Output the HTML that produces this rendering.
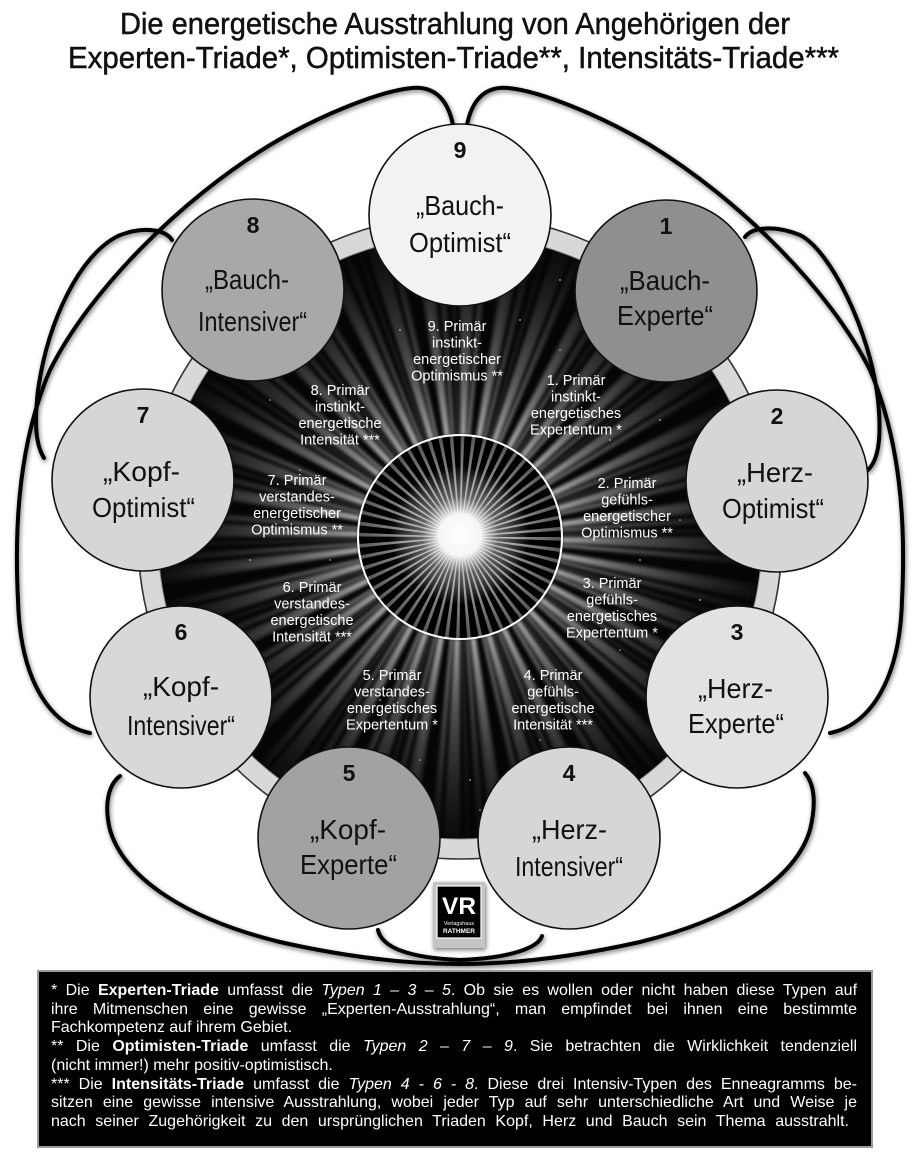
<!DOCTYPE html>
<html><head><meta charset="utf-8">
<style>
html,body{margin:0;padding:0;background:#fff;}
body{width:920px;height:1173px;position:relative;overflow:hidden;font-family:"Liberation Sans",sans-serif;}
svg{position:absolute;left:0;top:0;}
#foot{position:absolute;left:51px;top:982px;width:806px;color:#fff;font-size:16px;line-height:18.7px;}
#foot div{text-align:justify;text-align-last:justify;}
#foot div.l{text-align:left;text-align-last:left;}
</style></head>
<body>
<svg width="920" height="1173" viewBox="0 0 920 1173" xmlns="http://www.w3.org/2000/svg">
<defs>
<filter id="sh" x="-20%" y="-20%" width="140%" height="140%">
<feGaussianBlur in="SourceAlpha" stdDeviation="2.5"/>
<feOffset dx="1" dy="2" result="b"/>
<feComponentTransfer><feFuncA type="linear" slope="0.55"/></feComponentTransfer>
<feMerge><feMergeNode/><feMergeNode in="SourceGraphic"/></feMerge>
</filter>
<filter id="bl" filterUnits="userSpaceOnUse" x="140" y="217" width="640" height="640"><feGaussianBlur stdDeviation="1.6"/></filter>
<radialGradient id="rg" gradientUnits="userSpaceOnUse" cx="460" cy="537" r="302">
<stop offset="0.33" stop-color="#c4c4c4" stop-opacity="0.85"/>
<stop offset="0.55" stop-color="#9a9a9a" stop-opacity="0.55"/>
<stop offset="0.8" stop-color="#777" stop-opacity="0.28"/>
<stop offset="1" stop-color="#555" stop-opacity="0.08"/>
</radialGradient>
<radialGradient id="rc" gradientUnits="userSpaceOnUse" cx="460" cy="537" r="102">
<stop offset="0" stop-color="#fff"/>
<stop offset="0.35" stop-color="#aaa"/>
<stop offset="0.75" stop-color="#777"/>
<stop offset="1" stop-color="#555"/>
</radialGradient>
<radialGradient id="glow" cx="0.5" cy="0.5" r="0.5">
<stop offset="0" stop-color="#fff" stop-opacity="1"/>
<stop offset="0.3" stop-color="#fff" stop-opacity="0.95"/>
<stop offset="0.55" stop-color="#ddd" stop-opacity="0.45"/>
<stop offset="1" stop-color="#fff" stop-opacity="0"/>
</radialGradient>
<clipPath id="dc"><circle cx="460" cy="537" r="302"/></clipPath>
<clipPath id="cc"><circle cx="460" cy="537" r="102"/></clipPath>
</defs>

<!-- Title -->
<g font-family="Liberation Sans, sans-serif" font-size="31" fill="#111" stroke="#111" stroke-width="0.5">
<text x="120" y="34" textLength="670" lengthAdjust="spacingAndGlyphs">Die energetische Ausstrahlung von Angehörigen der</text>
<text x="68" y="68" textLength="771" lengthAdjust="spacingAndGlyphs">Experten-Triade*, Optimisten-Triade**, Intensitäts-Triade***</text>
</g>

<!-- Ring -->
<circle cx="460" cy="537" r="322" fill="#d8d8d8" stroke="#333" stroke-width="1.6"/>
<circle cx="460" cy="537" r="302" fill="#050505" stroke="#888" stroke-width="1"/>
<g clip-path="url(#dc)">
<g filter="url(#bl)">
<circle cx="460" cy="537" r="202" fill="none" stroke="url(#rg)" stroke-width="200" stroke-dasharray="11 20.73"/>
<circle cx="460" cy="537" r="202" fill="none" stroke="url(#rg)" stroke-width="200" stroke-dasharray="5 26.73" stroke-dashoffset="17" opacity="0.75"/>
<circle cx="460" cy="537" r="202" fill="none" stroke="url(#rg)" stroke-width="200" stroke-dasharray="3 18.15" stroke-dashoffset="7" opacity="0.45"/>
</g>
<g fill="#fff" opacity="0.7">
<circle cx="400" cy="330" r="0.9"/><circle cx="520" cy="320" r="0.9"/><circle cx="560" cy="350" r="0.8"/>
<circle cx="350" cy="420" r="0.8"/><circle cx="610" cy="440" r="0.9"/><circle cx="300" cy="470" r="0.8"/>
<circle cx="640" cy="560" r="0.9"/><circle cx="330" cy="560" r="0.8"/><circle cx="290" cy="640" r="0.9"/>
<circle cx="620" cy="650" r="0.8"/><circle cx="380" cy="700" r="0.9"/><circle cx="540" cy="740" r="0.8"/>
<circle cx="470" cy="780" r="0.9"/><circle cx="420" cy="760" r="0.8"/><circle cx="250" cy="560" r="0.9"/>
<circle cx="680" cy="520" r="0.8"/><circle cx="700" cy="600" r="0.9"/><circle cx="230" cy="480" r="0.8"/>
<circle cx="480" cy="810" r="0.8"/><circle cx="360" cy="800" r="0.9"/><circle cx="600" cy="780" r="0.8"/>
<circle cx="660" cy="420" r="0.9"/><circle cx="270" cy="400" r="0.8"/><circle cx="560" cy="280" r="0.9"/>
</g>
</g>

<!-- Center sun -->
<circle cx="460" cy="537" r="102" fill="#000"/>
<g clip-path="url(#cc)">
<circle cx="460" cy="537" r="51" fill="none" stroke="url(#rc)" stroke-width="102" stroke-dasharray="1.9 3.822"/>
<circle cx="460" cy="535" r="70" fill="url(#glow)"/>
</g>
<circle cx="460" cy="537" r="102" fill="none" stroke="#fff" stroke-width="2"/>

<!-- Texts in dark area -->
<g font-family="Liberation Sans, sans-serif" font-size="14.5" fill="#fff" text-anchor="middle">
<text x="457" y="331">9. Primär</text><text x="457" y="347.5">instinkt-</text><text x="457" y="364">energetischer</text><text x="457" y="380.5">Optimismus **</text>
<text x="576" y="385">1. Primär</text><text x="576" y="401.5">instinkt-</text><text x="576" y="418">energetisches</text><text x="576" y="434.5">Expertentum *</text>
<text x="340" y="395">8. Primär</text><text x="340" y="411.5">instinkt-</text><text x="340" y="428">energetische</text><text x="340" y="444.5">Intensität ***</text>
<text x="297" y="485">7. Primär</text><text x="297" y="501.5">verstandes-</text><text x="297" y="518">energetischer</text><text x="297" y="534.5">Optimismus **</text>
<text x="627" y="488">2. Primär</text><text x="627" y="504.5">gefühls-</text><text x="627" y="521">energetischer</text><text x="627" y="537.5">Optimismus **</text>
<text x="312" y="592">6. Primär</text><text x="312" y="608.5">verstandes-</text><text x="312" y="625">energetische</text><text x="312" y="641.5">Intensität ***</text>
<text x="612" y="588">3. Primär</text><text x="612" y="604.5">gefühls-</text><text x="612" y="621">energetisches</text><text x="612" y="637.5">Expertentum *</text>
<text x="392" y="680">5. Primär</text><text x="392" y="696.5">verstandes-</text><text x="392" y="713">energetisches</text><text x="392" y="729.5">Expertentum *</text>
<text x="553" y="680">4. Primär</text><text x="553" y="696.5">gefühls-</text><text x="553" y="713">energetische</text><text x="553" y="729.5">Intensität ***</text>
</g>

<!-- Connectors -->
<g fill="none" stroke="#000" stroke-width="4" stroke-linecap="round" filter="url(#sh)">
<path d="M 453,125 C 448,100 435,86 412,88 C 380,91 320,115 270,145 C 180,200 90,290 50,370 C 20,440 14,520 18,600 C 20,680 50,725 90,733"/>
<path d="M 467,125 C 472,100 485,86 508,88 C 540,91 600,115 650,145 C 740,200 830,290 870,370 C 900,440 906,520 902,600 C 900,680 870,725 830,733"/>
<path d="M 172,240 C 165,229 142,226 118,236 C 80,255 48,320 38,390 C 34,425 36,445 44,458"/>
<path d="M 745,237 C 752,227 775,225 800,235 C 830,250 870,330 878,400 C 882,440 878,460 868,470"/>
<path d="M 120,776 C 108,785 104,805 110,830 C 125,880 190,920 280,942 C 360,960 420,964 460,964 C 500,964 560,960 640,942 C 730,920 795,880 810,830 C 816,805 815,785 805,773"/>
<path d="M 378,930 C 382,948 410,958 460,960 C 510,958 538,948 542,936"/>
</g>

<!-- Nodes -->
<g stroke="#111" stroke-width="1.6">
<circle cx="460" cy="215" r="91" fill="#f2f2f2"/>
<circle cx="666" cy="291" r="91" fill="#8f8f8f"/>
<circle cx="777" cy="481" r="91" fill="#d6d6d6"/>
<circle cx="737" cy="697" r="91" fill="#e2e2e2"/>
<circle cx="569" cy="838" r="91" fill="#d6d6d6"/>
<circle cx="349" cy="838" r="91" fill="#a2a2a2"/>
<circle cx="181" cy="697" r="91" fill="#d8d8d8"/>
<circle cx="143" cy="480" r="91" fill="#d6d6d6"/>
<circle cx="253" cy="290" r="91" fill="#a8a8a8"/>
</g>

<!-- Node numbers -->
<g font-family="Liberation Sans, sans-serif" font-size="23" font-weight="bold" fill="#111" text-anchor="middle">
<text x="460" y="158">9</text>
<text x="666" y="234">1</text>
<text x="777" y="424">2</text>
<text x="737" y="640">3</text>
<text x="569" y="781">4</text>
<text x="349" y="781">5</text>
<text x="181" y="640">6</text>
<text x="143" y="423">7</text>
<text x="253" y="233">8</text>
</g>

<!-- Node labels -->
<g font-family="Liberation Sans, sans-serif" font-size="28" fill="#111">
<text x="416" y="215" textLength="88" lengthAdjust="spacingAndGlyphs">„Bauch-</text>
<text x="409" y="252" textLength="102" lengthAdjust="spacingAndGlyphs">Optimist“</text>
<text x="620" y="290" textLength="90" lengthAdjust="spacingAndGlyphs">„Bauch-</text>
<text x="617" y="325" textLength="96" lengthAdjust="spacingAndGlyphs">Experte“</text>
<text x="737" y="482" textLength="76" lengthAdjust="spacingAndGlyphs">„Herz-</text>
<text x="722" y="518" textLength="102" lengthAdjust="spacingAndGlyphs">Optimist“</text>
<text x="698" y="698" textLength="75" lengthAdjust="spacingAndGlyphs">„Herz-</text>
<text x="688" y="733" textLength="96" lengthAdjust="spacingAndGlyphs">Experte“</text>
<text x="532" y="839" textLength="75" lengthAdjust="spacingAndGlyphs">„Herz-</text>
<text x="515" y="876" textLength="108" lengthAdjust="spacingAndGlyphs">Intensiver“</text>
<text x="310" y="839" textLength="76" lengthAdjust="spacingAndGlyphs">„Kopf-</text>
<text x="300" y="874" textLength="97" lengthAdjust="spacingAndGlyphs">Experte“</text>
<text x="143" y="696" textLength="76" lengthAdjust="spacingAndGlyphs">„Kopf-</text>
<text x="127" y="735" textLength="108" lengthAdjust="spacingAndGlyphs">Intensiver“</text>
<text x="103" y="481" textLength="77" lengthAdjust="spacingAndGlyphs">„Kopf-</text>
<text x="92" y="517" textLength="103" lengthAdjust="spacingAndGlyphs">Optimist“</text>
<text x="205" y="289" textLength="84" lengthAdjust="spacingAndGlyphs">„Bauch-</text>
<text x="198" y="331" textLength="109" lengthAdjust="spacingAndGlyphs">Intensiver“</text>
</g>

<!-- Logo -->
<rect x="433" y="882" width="52" height="66" fill="#c4c4c4" filter="url(#sh)"/>
<rect x="437" y="886" width="44" height="52" fill="#000" stroke="#fff" stroke-width="1.2"/>
<text x="459" y="914" font-family="Liberation Sans, sans-serif" font-size="24" font-weight="bold" fill="#fff" text-anchor="middle" textLength="34" lengthAdjust="spacingAndGlyphs">VR</text>
<text x="459" y="925" font-family="Liberation Sans, sans-serif" font-size="5.5" fill="#fff" text-anchor="middle">Verlagshaus</text>
<text x="459" y="933" font-family="Liberation Sans, sans-serif" font-size="6.5" font-weight="bold" fill="#fff" text-anchor="middle">RATHMER</text>

<!-- Footer box -->
<rect x="38" y="971" width="834" height="176" fill="#000" stroke="#9a9a9a" stroke-width="2"/>
</svg>

<div id="foot">
<div>* Die <b>Experten-Triade</b> umfasst die <i>Typen 1 – 3 – 5</i>. Ob sie es wollen oder nicht haben diese Typen auf</div>
<div>ihre Mitmenschen eine gewisse „Experten-Ausstrahlung“, man empfindet bei ihnen eine bestimmte</div>
<div class="l">Fachkompetenz auf ihrem Gebiet.</div>
<div>** Die <b>Optimisten-Triade</b> umfasst die <i>Typen 2 – 7 – 9</i>. Sie betrachten die Wirklichkeit tendenziell</div>
<div class="l">(nicht immer!) mehr positiv-optimistisch.</div>
<div>*** Die <b>Intensitäts-Triade</b> umfasst die <i>Typen 4 - 6 - 8</i>. Diese drei Intensiv-Typen des Enneagramms be-</div>
<div>sitzen eine gewisse intensive Ausstrahlung, wobei jeder Typ auf sehr unterschiedliche Art und Weise je</div>
<div style="width:798px">nach seiner Zugehörigkeit zu den ursprünglichen Triaden Kopf, Herz und Bauch sein Thema ausstrahlt.</div>
</div>
</body></html>
